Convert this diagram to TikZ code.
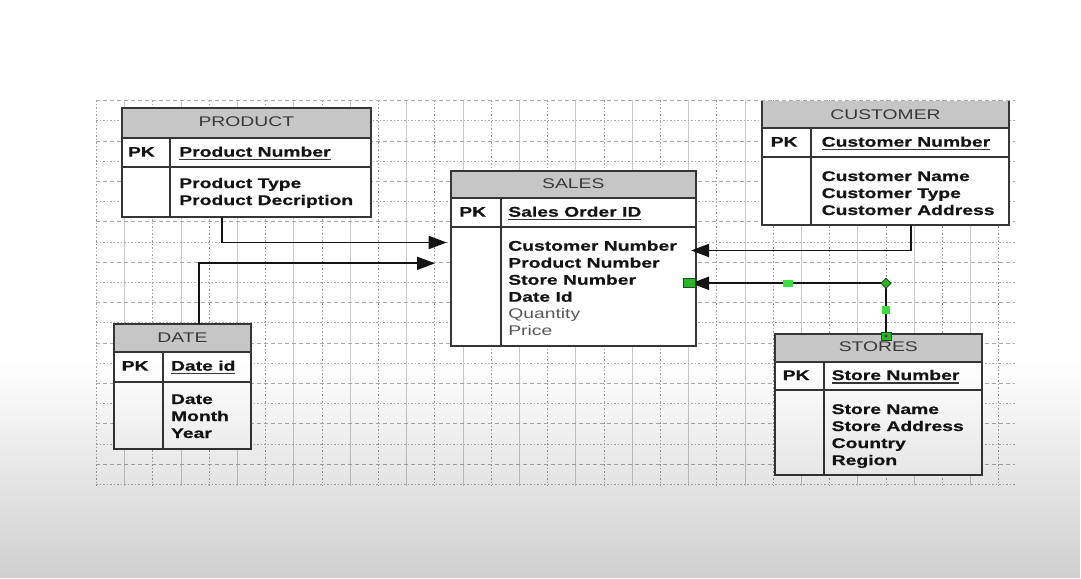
\documentclass[tikz,border=0pt]{standalone}
\usepackage{fontspec}
\setmainfont[FakeStretch=1.38, BoldFeatures={FakeBold=0.5}]{Liberation Sans}
\usetikzlibrary{arrows.meta,fit,fadings,shapes.geometric}

\definecolor{edgegray}{HTML}{363636}
\definecolor{hdrgray}{HTML}{C6C6C6}
\definecolor{ink}{HTML}{141414}
\definecolor{titlegray}{HTML}{383838}
\definecolor{soft}{HTML}{575757}
\definecolor{gridsolid}{HTML}{C9C9C9}
\definecolor{griddot}{HTML}{9C9C9C}
\definecolor{hgreen}{HTML}{2BB52B}
\definecolor{hgreenlt}{HTML}{3CE03C}
\definecolor{hdark}{HTML}{1F4F1F}

% soft darkening towards the lower edge
\tikzfading[name=lowshade, top color=transparent!100, middle color=transparent!25, bottom color=transparent!0]

\tikzset{
  tablebox/.style={inner sep=0pt, outer sep=0pt, fill=white},
  headbox/.style={inner sep=0pt, outer sep=0pt, fill=hdrgray},
  rule/.style={draw=edgegray, line width=1.8pt},
  txt/.style={inner sep=0pt, outer sep=0pt, font=\fontsize{14}{17}\selectfont},
  ttl/.style={txt, anchor=base, text=titlegray},
  key/.style={txt, anchor=base west, text=ink, font=\fontsize{14}{17}\selectfont\bfseries},
  plainfld/.style={txt, anchor=base west, text=soft},
  uline/.style={draw=ink!85, line width=1.3pt},
  link/.style={draw=ink, line width=1.8pt, -{Triangle[length=18pt,width=13pt]}},
  vsolid/.style={draw=gridsolid, line width=1pt},
  vdot/.style={draw=griddot, line width=0.9pt, dash pattern=on 1.5pt off 2pt},
  hdash/.style={draw=griddot!85, line width=0.9pt, dash pattern=on 4pt off 3pt},
  hdot/.style={draw=griddot!85, line width=0.9pt, dash pattern=on 1.5pt off 2pt},
  handle/.style={draw=hdark, fill=hgreen, line width=0.8pt, inner sep=0pt, outer sep=0pt},
  handlelt/.style={fill=hgreenlt, inner sep=0pt, outer sep=0pt},
}

% #1 name, #2 left, #3 top, #4 right, #5 header bottom, #6 key row bottom, #7 bottom, #8 column divider
\newcommand\ertable[8]{%
  \node[tablebox, fit={(#2,#3) (#4,#7)}] (#1) {};
  \node[headbox, fit={(#2,#3) (#4,#5)}] (#1-head) {};
  \draw[rule] (#2,#5) -- (#4,#5) (#2,#6) -- (#4,#6) (#8,#5) -- (#8,#7);
  \draw[rule] (#1.north west) rectangle (#1.south east);
}
% #1 name, #2 x, #3 baseline, #4 text : underlined key attribute
\newcommand\keyattr[4]{%
  \node[key] (#1) at (#2,#3) {#4};
  \draw[uline] ([yshift=-3pt]#1.base west) -- ([yshift=-3pt]#1.base east);
}

\begin{document}
\begin{tikzpicture}[x=1pt,y=-1pt]
\useasboundingbox (0,0) rectangle (1081,578);
\fill[white] (0,0) rectangle (1081,578);

% drawing grid
\foreach \k in {0,...,32}{
  \pgfmathsetmacro\gx{96.5+28.2*\k}
  \ifodd\k\relax
    \draw[vsolid] (\gx,100) -- (\gx,486);
  \else
    \draw[vdot] (\gx,100) -- (\gx,486);
  \fi
}
\foreach \k in {0,...,19}{
  \pgfmathsetmacro\gy{100.7+20.2*\k}
  \ifodd\k\relax
    \draw[hdot] (96,\gy) -- (1015,\gy);
  \else
    \draw[hdash] (96,\gy) -- (1015,\gy);
  \fi
}

% PRODUCT
\ertable{product}{121.7}{108.3}{371}{137.7}{166.7}{216.7}{170}
\node[ttl] (product-title) at (246.3,126.7) {PRODUCT};
\node[key] (product-pk) at (128,156.7) {PK};
\keyattr{product-id}{179.3}{156.7}{Product Number}
\node[key] (product-f1) at (179.3,188) {Product Type};
\node[key] (product-f2) at (179.3,205) {Product Decription};

% SALES
\ertable{sales}{450.7}{170.7}{696}{198.3}{226.7}{346}{500.7}
\node[ttl] (sales-title) at (573.3,188.3) {SALES};
\node[key] (sales-pk) at (459.3,216.7) {PK};
\keyattr{sales-id}{508.3}{216.7}{Sales Order ID}
\node[key] (sales-f1) at (508.3,250.7) {Customer Number};
\node[key] (sales-f2) at (508.3,267.7) {Product Number};
\node[key] (sales-f3) at (508.3,284.7) {Store Number};
\node[key] (sales-f4) at (508.3,301.7) {Date Id};
\node[plainfld] (sales-f5) at (508.3,318.7) {Quantity};
\node[plainfld] (sales-f6) at (508.3,335.7) {Price};

% CUSTOMER (top edge runs past the sheet)
\begin{scope}
  \clip (0,101) rectangle (1081,578);
  \ertable{customer}{761.7}{94}{1009.3}{128.3}{157.3}{225}{810.7}
\end{scope}
\node[ttl] (customer-title) at (885.5,119) {CUSTOMER};
\node[key] (customer-pk) at (770.7,146.7) {PK};
\keyattr{customer-id}{821.7}{146.7}{Customer Number}
\node[key] (customer-f1) at (821.7,181) {Customer Name};
\node[key] (customer-f2) at (821.7,198) {Customer Type};
\node[key] (customer-f3) at (821.7,215) {Customer Address};

% STORES
\ertable{stores}{775}{334}{981.7}{361.7}{390}{475}{824}
\node[ttl] (stores-title) at (878.3,351.7) {STORES};
\node[key] (stores-pk) at (782.7,380) {PK};
\keyattr{stores-id}{831.7}{380}{Store Number}
\node[key] (stores-f1) at (831.7,414) {Store Name};
\node[key] (stores-f2) at (831.7,431) {Store Address};
\node[key] (stores-f3) at (831.7,448) {Country};
\node[key] (stores-f4) at (831.7,465) {Region};

% DATE
\ertable{date}{114}{324}{251}{352.3}{381.7}{449}{163.3}
\node[ttl] (date-title) at (182.5,342.7) {DATE};
\node[key] (date-pk) at (121.7,370.7) {PK};
\keyattr{date-id}{171}{370.7}{Date id}
\node[key] (date-f1) at (171,404) {Date};
\node[key] (date-f2) at (171,421) {Month};
\node[key] (date-f3) at (171,438) {Year};

% relationships into SALES
\coordinate (prodTip) at (446.7,242.5);
\coordinate (dateTip) at (435,263.3);
\coordinate (custTip) at (691,250.5);
\coordinate (storeTip) at (691,283.3);
\draw[link] ([xshift=100pt]product.south west) |- (prodTip);
\draw[link] ([xshift=85pt]date.north west) |- (dateTip);
\draw[link] ([xshift=149.5pt]customer.south west) |- (custTip);
\draw[link] ([xshift=111pt]stores.north west) |- (storeTip);

% selection handles on the store link
\node[handle, minimum width=12pt, minimum height=9pt] (h-tip) at (689,283.3) {};
\node[handlelt, minimum width=10pt, minimum height=7pt] (h-mid) at (788,283.3) {};
\node[handle, diamond, minimum size=10pt] (h-bend) at (886,283.3) {};
\node[handlelt, minimum width=8pt, minimum height=8pt] (h-vmid) at (886,310) {};
\node[handle, minimum width=10pt, minimum height=8pt] (h-base) at (886,336) {};
\fill[hdark] (h-base.center) circle (1.6pt);

% lower shading
\fill[black, fill opacity=0.19, path fading=lowshade] (0,362) rectangle (1081,578);
\end{tikzpicture}
\end{document}
